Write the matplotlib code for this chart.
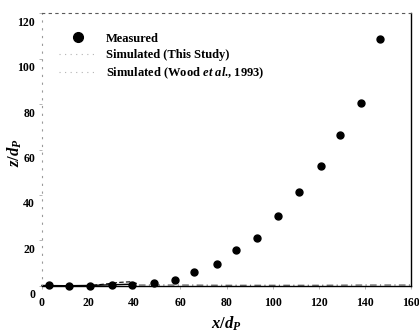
import numpy as np
import matplotlib
matplotlib.use("Agg")
import matplotlib.pyplot as plt
import matplotlib.transforms as mtransforms
from matplotlib.lines import Line2D

# measured trajectory
x_meas = [3.2, 11.8, 20.8, 30.2, 39.2, 48.6, 57.5, 66.0, 75.8, 84.1,
          93.2, 102.3, 111.4, 121.0, 129.2, 138.3, 146.6]
z_meas = [0.3, 0.0, 0.0, 0.2, 0.5, 1.3, 2.7, 6.3, 9.6, 15.7,
          21.3, 30.9, 41.4, 52.8, 66.3, 80.4, 108.5]

# simulated curves (only the parts still visible in the scan)
x_this = [0, 10, 20, 30, 40]
z_this = [0.2, 0.1, 0.2, 0.5, 0.8]
x_wood = [22, 28, 34, 38, 42]
z_wood = [0.3, 0.9, 1.6, 1.8, 0.9]
x_wood2 = [42, 60, 80, 100, 120, 140, 160]
z_wood2 = [0.4, 0.4, 0.3, 0.3, 0.3, 0.4, 0.4]

xticks = [0, 20, 40, 60, 80, 100, 120, 140, 160]
yticks = [0, 20, 40, 60, 80, 100, 120]

plt.rcParams["font.family"] = ["Liberation Serif", "DejaVu Serif"]
plt.rcParams["mathtext.fontset"] = "custom"
plt.rcParams["mathtext.rm"] = "Liberation Serif:bold"
plt.rcParams["mathtext.it"] = "Liberation Serif:italic:bold"
plt.rcParams["mathtext.bf"] = "Liberation Serif:bold"

fig = plt.figure(figsize=(4.19, 3.36), dpi=100)
ax = fig.add_axes([0.1002, 0.149, 0.8808, 0.812])

ax.plot(x_this, z_this, color="black", lw=1.0, clip_on=False)
ax.plot(x_wood, z_wood, color="black", lw=0.8, ls=(0, (4, 2)), clip_on=False)
ax.plot(x_wood2, z_wood2, color="0.3", lw=0.8, ls=(0, (6, 3, 1, 3)), clip_on=False)
ax.plot(x_meas, z_meas, "o", color="black", ms=5, clip_on=False, zorder=5)

ax.set_xlim(0, 160)
ax.set_ylim(0, 120)
ax.set_xticks(xticks)
ax.set_yticks(yticks)
ax.tick_params(length=2, width=0.5, color="0.6", labelsize=8.5)
ax.tick_params(axis="x", pad=6)
ax.tick_params(axis="y", pad=3)
for lab in ax.get_xticklabels() + ax.get_yticklabels():
    lab.set_fontweight("bold")
# labels in the scan sit a bit lower than the ticks
off = mtransforms.ScaledTranslation(0, -8 / 100, fig.dpi_scale_trans)
for lab in ax.get_yticklabels():
    lab.set_transform(lab.get_transform() + off)

ax.spines["top"].set_linestyle((0, (2, 4)))
ax.spines["top"].set_color("0.35")
ax.spines["left"].set_linestyle((0, (1, 6)))
ax.spines["left"].set_color("0.6")
ax.spines["right"].set_linewidth(1.0)
ax.spines["bottom"].set_linewidth(1.0)

ax.set_xlabel(r"$x/d_P$", fontsize=12, labelpad=4)
ax.set_ylabel(r"$z/d_P$", fontsize=12)
ax.yaxis.set_label_coords(-0.05, 0.49)

handles = [
    Line2D([], [], ls="none", marker="o", color="black", ms=7),
    Line2D([], [], ls=(0, (1, 4)), color="0.7", lw=0.8),
    Line2D([], [], ls=(0, (1, 4)), color="0.7", lw=0.8),
]
labels = ["Measured", "Simulated (This Study)",
          r"Simulated (Wood $et\ al$., 1993)"]
leg = ax.legend(handles, labels, loc="upper left", bbox_to_anchor=(0.015, 0.97),
                frameon=False, prop={"size": 9, "weight": "bold"},
                handlelength=3.0, handletextpad=0.8, labelspacing=0.35)

fig.savefig("out.png", dpi=100)
